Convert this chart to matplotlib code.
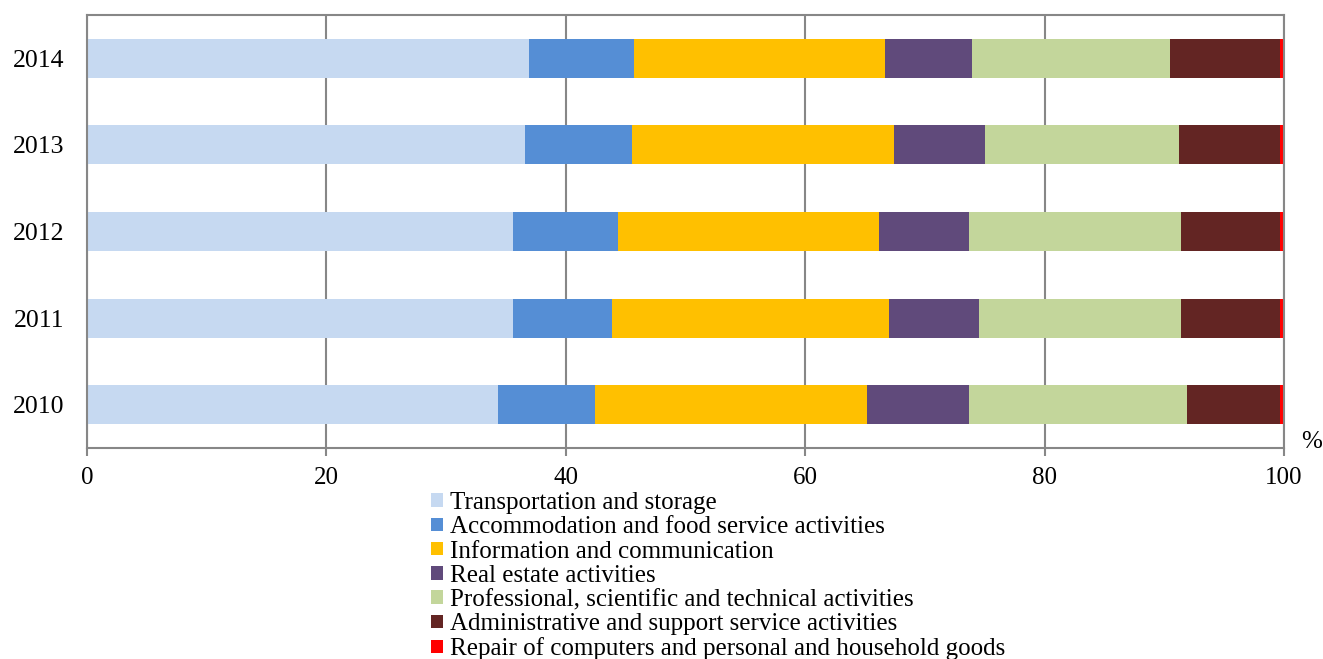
import numpy as np
import matplotlib.pyplot as plt

plt.rcParams['font.family'] = ['Liberation Serif', 'DejaVu Serif']

# years on the y axis (bottom to top)
years = ['2010', '2011', '2012', '2013', '2014']

# shares of each activity, %
transport = [34.3, 35.6, 35.6, 36.6, 36.9]
accommodation = [8.1, 8.3, 8.8, 8.9, 8.8]
info_comm = [22.8, 23.1, 21.8, 21.9, 21.0]
real_estate = [8.5, 7.5, 7.5, 7.6, 7.2]
professional = [18.2, 16.9, 17.7, 16.2, 16.6]
administrative = [7.8, 8.3, 8.3, 8.5, 9.2]
repair = [0.3, 0.3, 0.3, 0.3, 0.3]

labels = ['Transportation and storage',
          'Accommodation and food service activities',
          'Information and communication',
          'Real estate activities',
          'Professional, scientific and technical activities',
          'Administrative and support service activities',
          'Repair of computers and personal and household goods']
colors = ['#C6D9F1', '#558ED5', '#FFC000', '#604A7B', '#C3D69B', '#632523', '#FF0000']

series = [transport, accommodation, info_comm, real_estate, professional, administrative, repair]

fig = plt.figure(figsize=(13.23, 6.59), dpi=100)
ax = fig.add_axes([87/1323, 1-448/659, (1284-87)/1323, (448-15)/659])

y = np.arange(len(years))
left = np.zeros(len(years))
for vals, lab, col in zip(series, labels, colors):
    ax.barh(y, vals, left=left, height=0.45, color=col, label=lab, zorder=2)
    left += np.array(vals)

ax.set_xlim(0, 100)
ax.set_ylim(-0.5, 4.5)
ax.set_yticks(y)
ax.set_yticklabels(years)
ax.set_xticks([0, 20, 40, 60, 80, 100])
ax.xaxis.grid(True, color='#878787', linewidth=1.5, zorder=0)
ax.set_axisbelow(True)
for s in ax.spines.values():
    s.set_color('#878787')
    s.set_linewidth(1.5)
ax.tick_params(axis='y', length=0, pad=16, labelsize=18.5)
ax.tick_params(axis='x', length=6, width=1.5, color='#878787', pad=8, labelsize=18, direction='out')

ax.text(1.014, 0.015, '%', transform=ax.transAxes, fontsize=18, ha='left', va='center')

handles, labs = ax.get_legend_handles_labels()
fig.legend(handles, labs, loc='upper left', bbox_to_anchor=(0.326, 1-492/659),
           frameon=False, fontsize=18, handlelength=0.45, handleheight=0.45,
           handletextpad=0.3, labelspacing=0.09, borderpad=0, borderaxespad=0)

fig.savefig('out.png', dpi=100)
